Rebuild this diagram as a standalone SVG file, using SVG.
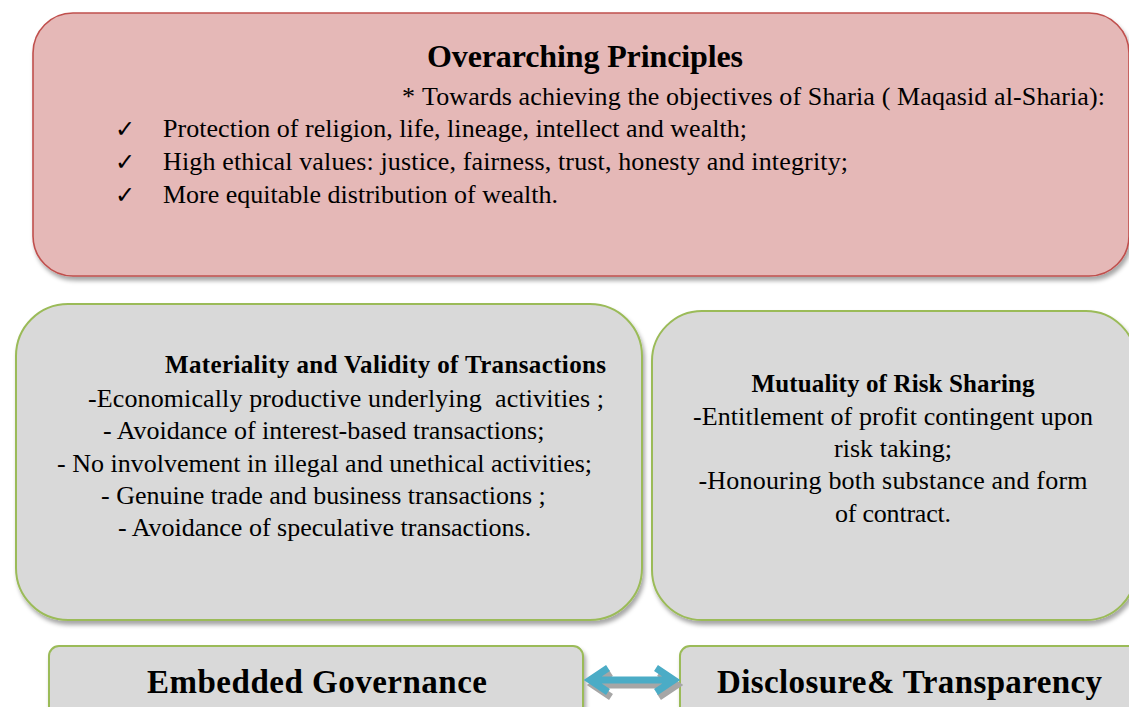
<svg xmlns="http://www.w3.org/2000/svg" width="1129" height="707" viewBox="0 0 1129 707">
  <defs>
    <filter id="shadow" x="-5%" y="-5%" width="115%" height="120%">
      <feDropShadow dx="2" dy="4" stdDeviation="2" flood-color="#000" flood-opacity="0.35"/>
    </filter>
  </defs>
  <style>
    .principle { fill: #e5b8b7; stroke: #c0504d; stroke-width: 1.6; }
    .pillar { fill: #d9d9d9; stroke: #9bbb59; stroke-width: 2; }
    .body { font-family: "Liberation Serif", "Times New Roman", serif; font-size: 26px; fill: #000; }
    .head { font-family: "Liberation Serif", "Times New Roman", serif; font-weight: bold; fill: #000; }
    .tick { font-family: "DejaVu Sans", sans-serif; font-size: 24px; fill: #000; }
    .link { fill: none; stroke-width: 7; stroke-linejoin: miter; stroke-linecap: butt; }
  </style>

  <!-- Overarching principles -->
  <g id="overarching-principles">
    <rect class="principle" x="33" y="13" width="1096" height="263" rx="40" ry="40" filter="url(#shadow)"/>
    <text class="head" x="427" y="67" font-size="32" textLength="316">Overarching Principles</text>
    <text class="body" x="402" y="105" font-size="34">*</text>
    <text class="body" x="422" y="105" textLength="683">Towards achieving the objectives of Sharia ( Maqasid al-Sharia):</text>
    <text class="tick" x="115" y="137">✓</text>
    <text class="tick" x="115" y="170">✓</text>
    <text class="tick" x="115" y="203">✓</text>
    <text class="body" x="163" y="137" textLength="584">Protection of religion, life, lineage, intellect and wealth;</text>
    <text class="body" x="163" y="170" textLength="685">High ethical values: justice, fairness, trust, honesty and integrity;</text>
    <text class="body" x="163" y="203">More equitable distribution of wealth.</text>
  </g>

  <!-- Materiality and validity of transactions -->
  <g id="materiality-validity">
    <rect class="pillar" x="16" y="304" width="626" height="316" rx="52" ry="52" filter="url(#shadow)"/>
    <text class="head" x="165" y="373" font-size="25" textLength="441">Materiality and Validity of Transactions</text>
    <text class="body" x="88" y="407" textLength="516" xml:space="preserve">-Economically productive underlying  activities ;</text>
    <text class="body" x="103" y="439">- Avoidance of interest-based transactions;</text>
    <text class="body" x="57" y="472">- No involvement in illegal and unethical activities;</text>
    <text class="body" x="101" y="504">- Genuine trade and business transactions ;</text>
    <text class="body" x="118" y="536">- Avoidance of speculative transactions.</text>
  </g>

  <!-- Mutuality of risk sharing -->
  <g id="risk-sharing">
    <rect class="pillar" x="652" y="311" width="484" height="309" rx="50" ry="50" filter="url(#shadow)"/>
    <text class="head" x="893" y="392" font-size="25" text-anchor="middle" textLength="283">Mutuality of Risk Sharing</text>
    <text class="body" x="893" y="425" text-anchor="middle" textLength="400">-Entitlement of profit contingent upon</text>
    <text class="body" x="893" y="457" text-anchor="middle" textLength="118">risk taking;</text>
    <text class="body" x="893" y="489" text-anchor="middle" textLength="389">-Honouring both substance and form</text>
    <text class="body" x="893" y="522" text-anchor="middle" textLength="116">of contract.</text>
  </g>

  <!-- Embedded governance -->
  <g id="embedded-governance">
    <rect class="pillar" x="49" y="646" width="534" height="80" rx="10" ry="10" filter="url(#shadow)"/>
    <text class="head" x="147" y="693" font-size="33" textLength="340">Embedded Governance</text>
  </g>

  <!-- Disclosure and transparency -->
  <g id="disclosure-transparency">
    <rect class="pillar" x="680" y="646" width="460" height="80" rx="10" ry="10" filter="url(#shadow)"/>
    <text class="head" x="717" y="693" font-size="33" textLength="385">Disclosure&amp; Transparency</text>
  </g>

  <!-- Connectors -->
  <g id="connectors">
    <path class="link" stroke="#a6a6a6" transform="translate(3,5)" d="M608 668 L590 680 L608 692 M590 680 L674 680 M656 668 L674 680 L656 692"/>
    <path class="link" stroke="#4bacc6" d="M608 668 L590 680 L608 692 M590 680 L674 680 M656 668 L674 680 L656 692"/>
  </g>
</svg>
